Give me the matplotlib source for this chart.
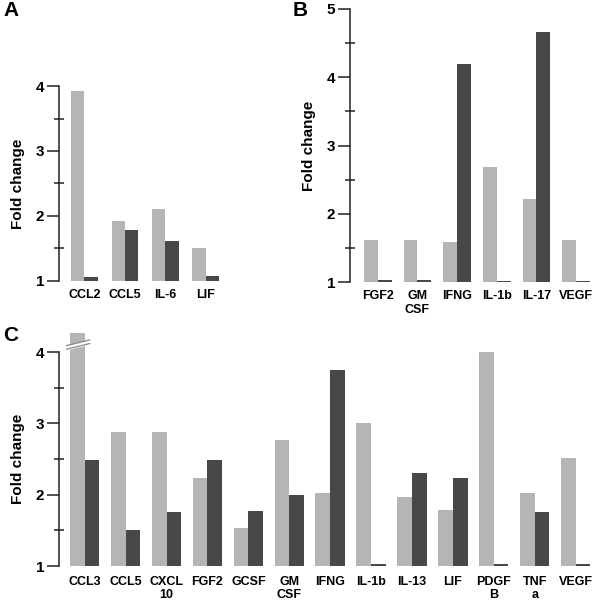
import matplotlib.pyplot as plt
import numpy as np
from matplotlib.ticker import MultipleLocator

plt.rcParams["font.family"] = ["Liberation Sans", "DejaVu Sans"]
plt.rcParams["font.weight"] = "bold"

LIGHT = "#b5b5b5"
DARK = "#484848"

# panel A
a_genes = ["CCL2", "CCL5", "IL-6", "LIF"]
a_light = [3.92, 1.92, 2.10, 1.50]
a_dark = [1.06, 1.78, 1.61, 1.07]

# panel B
b_genes = ["FGF2", "GM\nCSF", "IFNG", "IL-1b", "IL-17", "VEGF"]
b_light = [1.62, 1.62, 1.59, 2.69, 2.22, 1.62]
b_dark = [1.03, 1.03, 4.19, 1.02, 4.66, 1.02]

# panel C
c_genes = ["CCL3", "CCL5", "CXCL\n10", "FGF2", "GCSF", "GM\nCSF", "IFNG",
           "IL-1b", "IL-13", "LIF", "PDGF\nB", "TNF\na", "VEGF"]
c_light = [4.27, 2.88, 2.88, 2.23, 1.53, 2.77, 2.02, 3.01, 1.97, 1.79, 4.00, 2.02, 2.51]
c_dark = [2.49, 1.50, 1.76, 2.49, 1.77, 2.00, 3.75, 1.03, 2.30, 2.24, 1.03, 1.76, 1.03]


def bar_panel(ax, genes, light, dark, ytop, width, xlim, label_pad):
    x = np.arange(len(genes))
    light = np.array(light)
    dark = np.array(dark)
    ax.bar(x - width / 2, light - 1, width, bottom=1, color=LIGHT, clip_on=False)
    ax.bar(x + width / 2, dark - 1, width, bottom=1, color=DARK, clip_on=False)
    ax.set_ylim(1, ytop)
    ax.set_xlim(*xlim)
    for s in ["top", "right", "bottom"]:
        ax.spines[s].set_visible(False)
    ax.spines["left"].set_linewidth(1.1)
    ax.spines["left"].set_color("#222222")
    ax.yaxis.set_major_locator(MultipleLocator(1))
    ax.yaxis.set_minor_locator(MultipleLocator(0.5))
    ax.tick_params(axis="y", which="major", direction="out", length=8.5,
                   width=1.1, pad=2, labelsize=11, color="#222222")
    ax.tick_params(axis="y", which="minor", direction="inout", length=7.5,
                   width=1.1, color="#222222")
    ax.set_xticks(x)
    ax.set_xticklabels(genes, fontsize=9, fontweight="bold", linespacing=1.15)
    ax.tick_params(axis="x", length=0, pad=label_pad)
    ax.set_ylabel("Fold change", fontsize=11, fontweight="bold", labelpad=8)
    return x


fig = plt.figure(figsize=(6.0, 6.04), dpi=100)

ax_a = fig.add_axes([0.0983, 0.5348, 0.285, 0.3228])
bar_panel(ax_a, a_genes, a_light, a_dark, 4, 0.33, (-0.63, 3.6), 6)

ax_b = fig.add_axes([0.5833, 0.5331, 0.41, 0.452])
bar_panel(ax_b, b_genes, b_light, b_dark, 5, 0.35, (-0.7, 5.5), 6)

ax_c = fig.add_axes([0.0983, 0.0629, 0.895, 0.3543])
xc = bar_panel(ax_c, c_genes, c_light, c_dark, 4, 0.36, (-0.63, 12.5), 7)

# axis break over the CCL3 bar
w = 0.36
bx = np.array([xc[0] - w - 0.08, xc[0] + 0.12])
by = 4.04 + (bx - bx[0]) * 0.14
ax_c.fill_between(bx, by, by + 0.05, color="white", clip_on=False, zorder=3)
ax_c.plot(bx, by, color="#888888", lw=0.9, clip_on=False, zorder=4)
ax_c.plot(bx, by + 0.05, color="#888888", lw=0.9, clip_on=False, zorder=4)

fig.text(0.005, 0.967, "A", fontsize=15, fontweight="bold", va="bottom")
fig.text(0.487, 0.967, "B", fontsize=15, fontweight="bold", va="bottom")
fig.text(0.005, 0.428, "C", fontsize=15, fontweight="bold", va="bottom")

fig.savefig("out.png", dpi=100)
